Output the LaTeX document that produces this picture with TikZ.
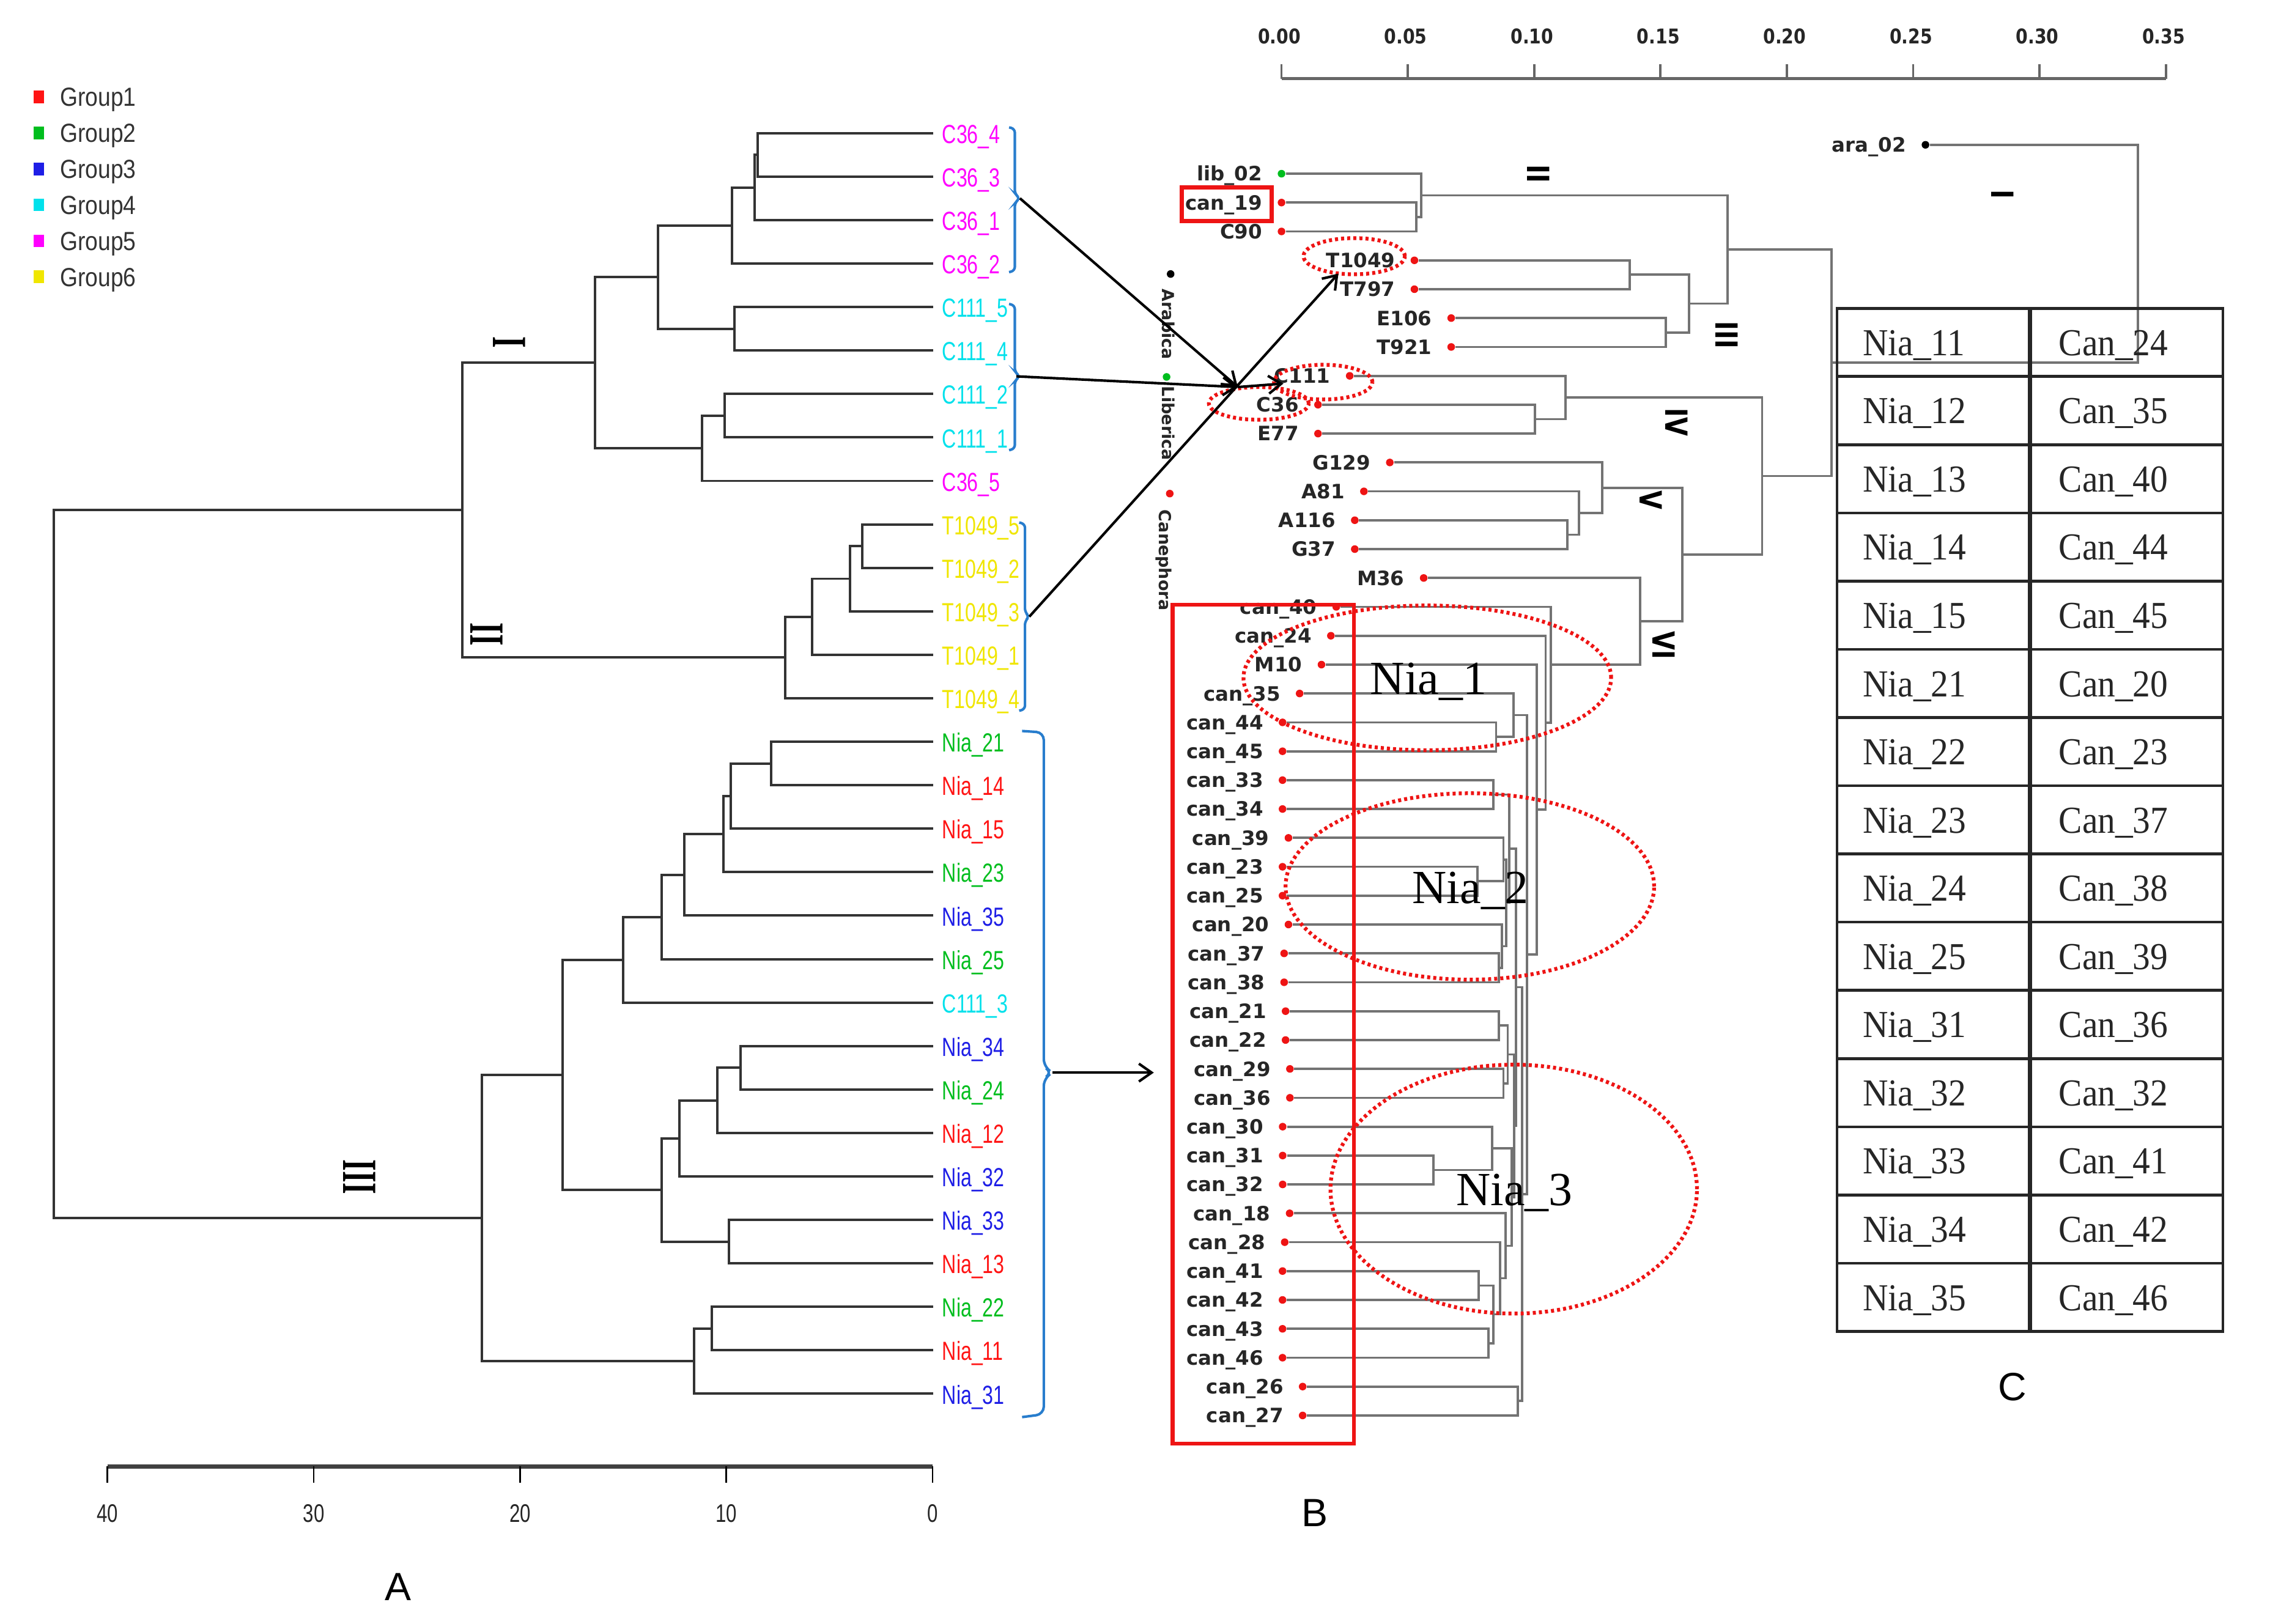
\documentclass[tikz,border=0pt]{standalone}
\usepackage{fontspec}
\setmainfont{Liberation Serif}
\setsansfont{Liberation Sans}
\newfontfamily\fA[FakeStretch=0.75]{Liberation Sans}
\newfontfamily\fLeg[FakeStretch=0.87]{Liberation Sans}
\newfontfamily\fB{DejaVu Sans}
\newfontfamily\fBn[FakeStretch=0.85]{DejaVu Sans}
\newfontfamily\fRB[FakeStretch=0.8]{DejaVu Sans}
\newfontfamily\fT[FakeStretch=0.92]{Liberation Serif}
\newfontfamily\fR[FakeStretch=0.6]{Liberation Serif}
\usetikzlibrary{calc,arrows.meta}
\definecolor{gA}{RGB}{255,20,20}
\definecolor{gB}{RGB}{0,190,30}
\definecolor{gC}{RGB}{30,30,230}
\definecolor{gD}{RGB}{0,225,235}
\definecolor{gE}{RGB}{255,0,255}
\definecolor{gF}{RGB}{240,230,0}
\definecolor{bracecol}{RGB}{40,125,205}
\definecolor{rd}{RGB}{238,20,20}
\newcommand{\jn}[5][]{%
  \coordinate (jt) at ($(#4)!0.5!(#5)$);
  \coordinate (jx) at (#3,0);
  \coordinate (#2) at (jt -| jx);
  \draw[#1] (#4) -| (#2) |- (#5);}
\tikzset{
 treeA/.style={draw=black!80, line width=0.95pt},
 treeB/.style={draw=black!55, line width=0.9pt},
 lblA/.style={font=\fA\fontsize{10.3}{12}\selectfont, inner sep=0pt, anchor=base west},
 legtx/.style={font=\fLeg\fontsize{10.3}{12}\selectfont, inner sep=0pt, anchor=base west, text=black!80},
 lblB/.style={font=\fB\bfseries\fontsize{7.8}{9}\selectfont, text=black!85, inner sep=0pt, anchor=base east},
 sclB/.style={font=\fBn\bfseries\fontsize{8}{9}\selectfont, text=black!85, inner sep=0pt},
 sclA/.style={font=\fA\fontsize{10}{12}\selectfont, text=black!85, inner sep=0pt},
 spec/.style={font=\fB\bfseries\fontsize{6.5}{7}\selectfont, text=black!85, inner sep=0pt, rotate=-90},
 dotB/.style={circle, inner sep=0pt, minimum size=3pt, draw=none},
 brc/.style={draw=bracecol, line width=1pt, rounded corners=1.5pt},
 arr/.style={draw=black, line width=1pt, -{Straight Barb[length=5pt,width=7pt]}},
 ell/.style={draw=rd, line width=1.5pt, dash pattern=on 1.2pt off 1.2pt},
 rbox/.style={draw=rd, line width=1.6pt},
 romanA/.style={font=\fR\bfseries\fontsize{19.3}{20}\selectfont, rotate=-90, inner sep=0pt},
 romanB/.style={font=\fRB\bfseries\fontsize{12}{14}\selectfont, rotate=-90, inner sep=0pt},
 tblline/.style={draw=black!85, line width=1.1pt},
 tbltx/.style={font=\fT\fontsize{15}{17}\selectfont, text=black!85, inner sep=0pt, anchor=base west},
 nia/.style={font=\fontsize{18.7}{20}\selectfont, inner sep=0pt, anchor=base west},
 panel/.style={font=\sffamily\fontsize{15.5}{17}\selectfont, inner sep=0pt},
}
\begin{document}
\begin{tikzpicture}[x=0.02cm, y=-0.02cm]
\fill[white] (0,0) rectangle (1568,1121.9);
\useasboundingbox (0,0) rectangle (1568,1121.9);

% ---------- legend ----------
\foreach \g/\cl [count=\j from 0] in {Group1/gA,Group2/gB,Group3/gC,Group4/gD,Group5/gE,Group6/gF}{
  \pgfmathsetmacro\yy{67+24.85*\j}
  \node[fill=\cl, minimum width=4pt, minimum height=5pt, inner sep=0pt] (lg\j) at (26.7,\yy) {};
  \node[legtx] (lgt\j) at (41.2,\yy+6.5) {\g};
}

% ---------- panel A leaves ----------
\foreach \nm/\cl/\tx [count=\i from 0] in {
 a0/gE/C36\_4, a1/gE/C36\_3, a2/gE/C36\_1, a3/gE/C36\_2,
 a4/gD/C111\_5, a5/gD/C111\_4, a6/gD/C111\_2, a7/gD/C111\_1, a8/gE/C36\_5,
 a9/gF/T1049\_5, a10/gF/T1049\_2, a11/gF/T1049\_3, a12/gF/T1049\_1, a13/gF/T1049\_4,
 a14/gB/Nia\_21, a15/gA/Nia\_14, a16/gA/Nia\_15, a17/gB/Nia\_23, a18/gC/Nia\_35,
 a19/gB/Nia\_25, a20/gD/C111\_3, a21/gC/Nia\_34, a22/gB/Nia\_24, a23/gA/Nia\_12,
 a24/gC/Nia\_32, a25/gC/Nia\_33, a26/gA/Nia\_13, a27/gB/Nia\_22, a28/gA/Nia\_11,
 a29/gC/Nia\_31}{
  \pgfmathsetmacro\yy{92+30.03*\i}
  \coordinate (\nm) at (644.4,\yy);
  \node[lblA, text=\cl] (t\nm) at (650.5,\yy+7) {\tx};
}

% ---------- panel A tree ----------
\jn[treeA]{p1}{523.4}{a0}{a1}
\jn[treeA]{p2}{521.4}{p1}{a2}
\jn[treeA]{p3}{505.7}{p2}{a3}
\jn[treeA]{p4}{507.4}{a4}{a5}
\jn[treeA]{p5}{454.4}{p3}{p4}
\jn[treeA]{p6}{500.6}{a6}{a7}
\jn[treeA]{p7}{485}{p6}{a8}
\jn[treeA]{p8}{411.2}{p5}{p7}
\jn[treeA]{p9}{595.6}{a9}{a10}
\jn[treeA]{p10}{587.1}{p9}{a11}
\jn[treeA]{p11}{561}{p10}{a12}
\jn[treeA]{p12}{542.4}{p11}{a13}
\jn[treeA]{p13}{319.2}{p8}{p12}
\jn[treeA]{q1}{532.8}{a14}{a15}
\jn[treeA]{q2}{504.7}{q1}{a16}
\jn[treeA]{q3}{499.6}{q2}{a17}
\jn[treeA]{q4}{472.5}{q3}{a18}
\jn[treeA]{q5}{456.9}{q4}{a19}
\jn[treeA]{q6}{430.3}{q5}{a20}
\jn[treeA]{q7}{511.7}{a21}{a22}
\jn[treeA]{q8}{495.6}{q7}{a23}
\jn[treeA]{q9}{469.1}{q8}{a24}
\jn[treeA]{q10}{503.7}{a25}{a26}
\jn[treeA]{q11}{456.9}{q9}{q10}
\jn[treeA]{q12}{388.5}{q6}{q11}
\jn[treeA]{q13}{491.6}{a27}{a28}
\jn[treeA]{q14}{479.5}{q13}{a29}
\jn[treeA]{q15}{332.8}{q12}{q14}
\jn[treeA]{r0}{37.2}{p13}{q15}

% roman numerals A
\node[romanA] (rA1) at (351.7,236.4) {I};
\node[romanA] (rA2) at (336.2,438.3) {II};
\node[romanA] (rA3) at (248.4,813) {III};

% braces A
\draw[brc] (697,88) -- (701,89) -- (701,134) -- (704.5,137) -- (701,140) -- (701,187) -- (697,188);
\draw[brc] (697,210) -- (701,211) -- (701,257) -- (704.5,260) -- (701,263) -- (701,310) -- (697,311);
\draw[brc] (704,361) -- (708,362) -- (708,423) -- (711,426) -- (708,429) -- (708,490) -- (704,491);
\draw[brc, rounded corners=3pt] (706,505) -- (721,506) -- (721,737) -- (727,741) -- (721,745) -- (721,977) -- (706,979);

% axis A
\draw[draw=black!75, line width=1.7pt] (74.2,1013) -- (644.2,1013);
\foreach \v [count=\j from 0] in {40,30,20,10,0}{
  \pgfmathsetmacro\xx{74.2+142.5*\j}
  \draw[black, line width=0.6pt] (\xx,1013) -- (\xx,1024.4);
  \node[sclA] (sa\j) at (\xx,1045.6) {\v};
}
\node[panel] (pA) at (275,1096.5) {A};

% ---------- panel B leaves ----------
\foreach \nm/\xx/\cl/\tx [count=\i from 0] in {
 k0/1330/black/ara\_02, k1/885.2/gB/lib\_02, k2/885.2/rd/can\_19, k3/885.2/rd/C90,
 k4/977/rd/T1049, k5/977/rd/T797, k6/1002.4/rd/E106, k7/1002.4/rd/T921,
 k8/932.3/rd/C111, k9/910.4/rd/C36, k10/910.4/rd/E77, k11/960/rd/G129,
 k12/942.1/rd/A81, k13/935.8/rd/A116, k14/935.8/rd/G37, k15/983.4/rd/M36,
 k16/923/rd/can\_40, k17/919.3/rd/can\_24, k18/912.8/rd/M10, k19/897.7/rd/can\_35,
 k20/885.9/rd/can\_44, k21/885.9/rd/can\_45, k22/885.9/rd/can\_33, k23/885.9/rd/can\_34,
 k24/890/rd/can\_39, k25/885.9/rd/can\_23, k26/885.9/rd/can\_25, k27/890/rd/can\_20,
 k28/887/rd/can\_37, k29/887/rd/can\_38, k30/888/rd/can\_21, k31/888/rd/can\_22,
 k32/891/rd/can\_29, k33/891/rd/can\_36, k34/886/rd/can\_30, k35/886/rd/can\_31,
 k36/886/rd/can\_32, k37/890.8/rd/can\_18, k38/887.4/rd/can\_28, k39/885.9/rd/can\_41,
 k40/885.9/rd/can\_42, k41/885.9/rd/can\_43, k42/885.9/rd/can\_46, k43/899.8/rd/can\_26,
 k44/899.8/rd/can\_27}{
  \pgfmathsetmacro\yy{100.05+19.95*\i}
  \node[dotB, fill=\cl] (\nm) at (\xx,\yy) {};
  \node[lblB] (t\nm) at (\xx-13,\yy+5) {\tx};
}

% ---------- panel B tree ----------
\jn[treeB]{n1}{978.2}{k2}{k3}
\jn[treeB]{n2}{981.8}{k1}{n1}
\jn[treeB]{n3}{1125.6}{k4}{k5}
\jn[treeB]{n4}{1150.6}{k6}{k7}
\jn[treeB]{n5}{1166.7}{n3}{n4}
\jn[treeB]{n6}{1193.3}{n2}{n5}
\jn[treeB]{n7}{1060.1}{k9}{k10}
\jn[treeB]{n8}{1081.4}{k8}{n7}
\jn[treeB]{n9}{1082.7}{k13}{k14}
\jn[treeB]{n10}{1090.8}{k12}{n9}
\jn[treeB]{n11}{1106.8}{k11}{n10}
\jn[treeB]{m1}{1033.4}{k20}{k21}
\jn[treeB]{m2}{1045.5}{k19}{m1}
\jn[treeB]{m3}{1031.4}{k22}{k23}
\jn[treeB]{m4}{1020.4}{k25}{k26}
\jn[treeB]{m5}{1038.5}{k24}{m4}
\jn[treeB]{m6}{1035.4}{k28}{k29}
\jn[treeB]{m7}{1037.5}{k27}{m6}
\jn[treeB]{m8}{1040.5}{m5}{m7}
\jn[treeB]{m9}{1042.5}{m3}{m8}
\jn[treeB]{m10}{1035.4}{k30}{k31}
\jn[treeB]{m11}{1038.5}{k32}{k33}
\jn[treeB]{m12}{1041.5}{m10}{m11}
\jn[treeB]{m13}{990.2}{k35}{k36}
\jn[treeB]{m14}{1030.7}{k34}{m13}
\jn[treeB]{m15}{1021.4}{k39}{k40}
\jn[treeB]{m16}{1028}{k41}{k42}
\jn[treeB]{m17}{1031.4}{m15}{m16}
\jn[treeB]{m18}{1036.2}{k38}{m17}
\jn[treeB]{m19}{1040}{k37}{m18}
\jn[treeB]{m20}{1044.1}{m14}{m19}
\jn[treeB]{m21}{1046}{m12}{m20}
\jn[treeB]{m22}{1047}{m9}{m21}
\jn[treeB]{m23}{1048.5}{k43}{k44}
\jn[treeB]{m24}{1051.5}{m22}{m23}
\jn[treeB]{m25}{1054.6}{m2}{m24}
\jn[treeB]{m26}{1061.6}{k18}{m25}
\jn[treeB]{m27}{1067.6}{k17}{m26}
\jn[treeB]{m28}{1071.1}{k16}{m27}
\jn[treeB]{n12}{1133}{k15}{m28}
\jn[treeB]{n13}{1162.1}{n11}{n12}
\jn[treeB]{n14}{1217.2}{n8}{n13}
\jn[treeB]{n15}{1265}{n6}{n14}
\jn[treeB]{n16}{1476.8}{k0}{n15}

% roman numerals B
\node[romanB] (rB2) at (1062.6,120.3) {II};
\node[romanB] (rB1) at (1383.2,134.3) {I};
\node[romanB] (rB3) at (1192.6,231.6) {III};
\node[romanB] (rB4) at (1158,291.5) {IV};
\node[romanB] (rB5) at (1140.2,345.7) {V};
\node[romanB] (rB6) at (1149.4,446) {VI};

% scale B
\draw[draw=black!60, line width=1.1pt] (885.2,54.3) -- (1496,54.3);
\foreach \v [count=\j from 0] in {0.00,0.05,0.10,0.15,0.20,0.25,0.30,0.35}{
  \pgfmathsetmacro\xx{885.2+87.26*\j}
  \draw[draw=black!60, line width=0.9pt] (\xx,54.3) -- (\xx,44.3);
  \node[sclB] (sb\j) at (\xx-1.5,25.2) {\v};
}

% species
\node[dotB, fill=black] (spA) at (808.6,189.3) {};
\node[spec] (spAt) at (807,224) {Arabica};
\node[dotB, fill=gB] (spL) at (805.8,260.4) {};
\node[spec] (spLt) at (807,292.5) {Liberica};
\node[dotB, fill=rd] (spC) at (808,341) {};
\node[spec] (spCt) at (804,387) {Canephora};

% red boxes and dotted ellipses
\draw[rbox] (816.2,129.4) rectangle (878.3,152.7);
\draw[rbox] (810,417.8) rectangle (935.2,997.3);
\draw[ell] (935.4,177) ellipse [x radius=0.70cm, y radius=0.25cm];
\draw[ell] (914,264) ellipse [x radius=0.68cm, y radius=0.24cm];
\draw[ell] (869.5,278.7) ellipse [x radius=0.69cm, y radius=0.226cm];
\draw[ell] (985.9,468.3) ellipse [x radius=2.54cm, y radius=1.0cm];
\draw[ell] (1015.3,612.4) ellipse [x radius=2.546cm, y radius=1.288cm];
\draw[ell] (1045.6,821.5) ellipse [x radius=2.532cm, y radius=1.72cm];

\node[nia] (nia1) at (946.2,479.5) {Nia\_1};
\node[nia] (nia2) at (975.3,624.1) {Nia\_2};
\node[nia] (nia3) at (1005.5,832.7) {Nia\_3};

% arrows
\coordinate (tipC36) at (704.5,137);
\coordinate (tipC111) at (702,260);
\coordinate (tipT) at (711,426);
\coordinate (tipN) at (727,741);
\coordinate (cv) at (855,267.4);
\coordinate (tgtT) at (924.5,189);
\coordinate (tgtC) at (886.5,265);
\coordinate (tgtN) at (797,741);
\draw[arr] (tipC36) -- (cv);
\draw[arr] (tipC111) -- (cv);
\draw[arr] (tipT) -- (tgtT);
\draw[arr] (cv) -- (tgtC);
\draw[arr] (tipN) -- (tgtN);

\node[panel] (pB) at (908,1045) {B};

% ---------- table C ----------
\foreach \i in {1,...,14}{
  \draw[tblline] (1269,{213+47.12*\i}) -- (1535.5,{213+47.12*\i});
}
\draw[tblline] (1269,213) rectangle (1535.5,919.8);
\draw[tblline, line width=1.7pt] (1402,213) -- (1402,919.8);
\foreach \l/\r [count=\i from 0] in {Nia\_11/Can\_24, Nia\_12/Can\_35, Nia\_13/Can\_40,
 Nia\_14/Can\_44, Nia\_15/Can\_45, Nia\_21/Can\_20, Nia\_22/Can\_23, Nia\_23/Can\_37,
 Nia\_24/Can\_38, Nia\_25/Can\_39, Nia\_31/Can\_36, Nia\_32/Can\_32, Nia\_33/Can\_41,
 Nia\_34/Can\_42, Nia\_35/Can\_46}{
  \pgfmathsetmacro\yy{213+47.12*(\i+0.5)+9}
  \node[tbltx] (tl\i) at (1286.4,\yy) {\l};
  \node[tbltx] (tr\i) at (1421.8,\yy) {\r};
}
\node[panel] (pC) at (1390,958) {C};
\end{tikzpicture}
\end{document}
